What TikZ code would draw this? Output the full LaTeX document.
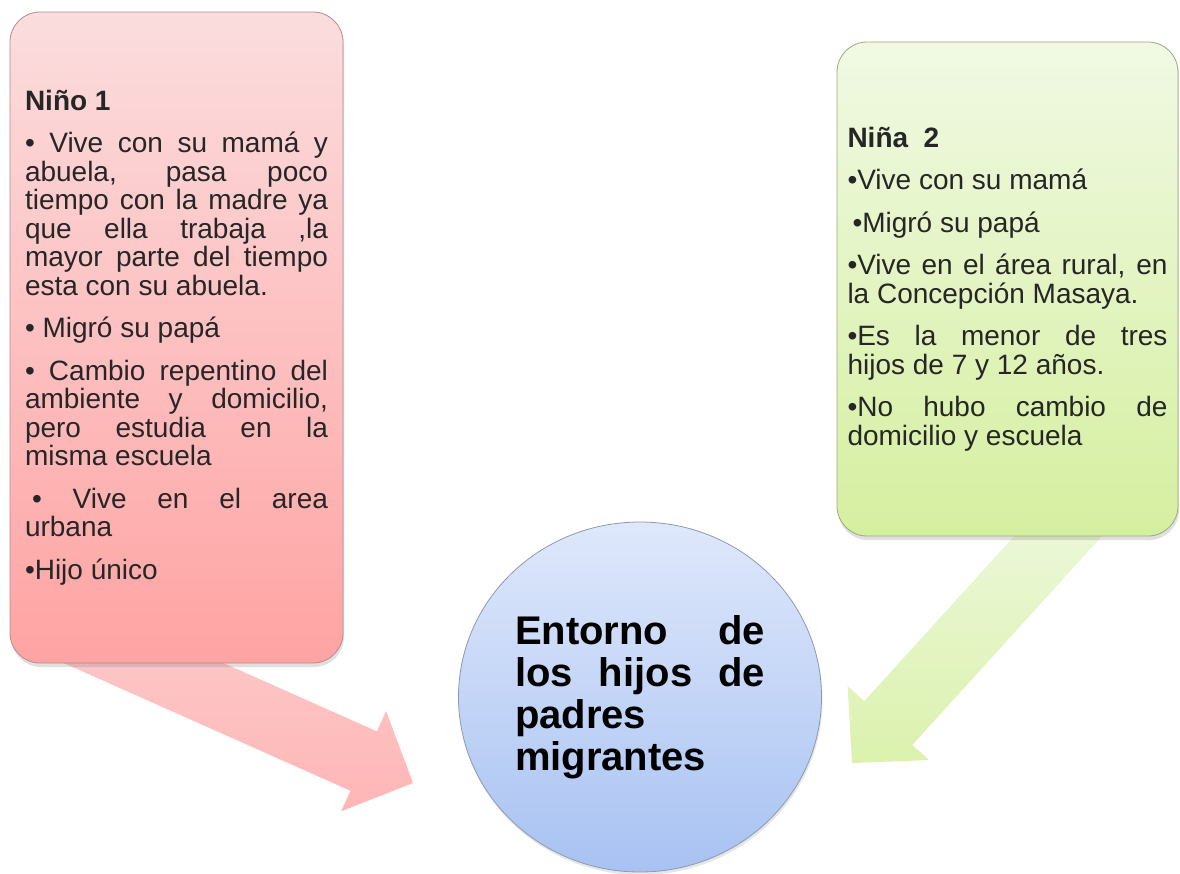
\documentclass[tikz,border=0pt]{standalone}
\usepackage{fontspec}
\setmainfont{Liberation Sans}
\usetikzlibrary{
    calc,
    shapes.geometric,
    shadows
}
\definecolor{pinktop}{HTML}{FBDDDE}
\definecolor{pinkbot}{HTML}{FFA3A3}
\definecolor{pinkline}{HTML}{B88A8A}
\definecolor{greentop}{HTML}{F1F9E4}
\definecolor{greenbot}{HTML}{D5EF9F}
\definecolor{greenline}{HTML}{98AC78}
\definecolor{bluetop}{HTML}{DFE8FB}
\definecolor{bluebot}{HTML}{A8C2F2}
\definecolor{blueline}{HTML}{8C9AB0}
\hbadness=10000
\hyphenpenalty=10000
% block arrow: style, tail, tip
\newcommand{\blockarrow}[3]{%
    \coordinate (#2b) at ($(#3)!54pt!(#2)$);
    \path[#1] ($(#2)!32.5pt!90:(#3)$) -- ($(#2b)!32.5pt!-90:(#2)$)
        -- ($(#2b)!55pt!-90:(#2)$) -- (#3) -- ($(#2b)!55pt!90:(#2)$)
        -- ($(#2b)!32.5pt!90:(#2)$) -- ($(#2)!32.5pt!-90:(#3)$) -- cycle;
}

\begin{document}
\begin{tikzpicture}[x=1pt, y=-1pt,
    card/.style={rectangle, rounded corners=30pt, draw=#1line, line width=0.8pt,
        top color=#1top, bottom color=#1bot, align=justify, text=black!85,
        font=\fontsize{28pt}{28.5pt}\selectfont,
        execute at begin node={\setlength{\parskip}{14pt}\setlength{\parindent}{0pt}},
        drop shadow={opacity=0.25, shadow xshift=1pt, shadow yshift=-4pt}},
    hub/.style={ellipse, draw=blueline, line width=0.8pt, inner sep=0pt,
        top color=bluetop, bottom color=bluebot, align=justify,
        minimum width=363pt, minimum height=350pt, text width=250pt,
        font=\bfseries\fontsize{40pt}{42pt}\selectfont,
        drop shadow={opacity=0.2, shadow xshift=1pt, shadow yshift=-3pt}},
    pinkflow/.style={top color=pinktop!70!pinkbot, bottom color=pinkbot!80!white},
    greenflow/.style={top color=greentop, bottom color=greenbot!85!white}
    ]
    \useasboundingbox (0,0) rectangle (1180,873);

    \coordinate (tail1) at (71.4,630.9);
    \coordinate (tip1) at (413,783);
    \coordinate (tail2) at (1110,479);
    \coordinate (tip2) at (852,763);
    \blockarrow{pinkflow}{tail1}{tip1}
    \blockarrow{greenflow}{tail2}{tip2}

    \node[card=pink, minimum width=333pt, minimum height=651pt, text width=303pt,
        inner xsep=15pt] (nino) at (176.5,337.5) {%
        \textbf{Niño 1}\par
        • Vive con su mamá y\linebreak abuela, pasa poco\linebreak
        tiempo con la madre ya\linebreak que ella trabaja ,la\linebreak
        mayor parte del tiempo\linebreak esta con su abuela.\par
        • Migró su papá\par
        • Cambio repentino del\linebreak ambiente y domicilio,\linebreak
        pero estudia en la\linebreak misma escuela\par
        \hspace*{7pt}• Vive en el area\linebreak urbana\par
        •Hijo único};

    \node[card=green, minimum width=341pt, minimum height=494pt, text width=320pt,
        inner xsep=10.5pt] (nina) at (1007.5,289) {%
        \textbf{Niña\ \ 2}\par
        •Vive con su mamá\par
        \hspace*{5pt}•Migró su papá\par
        •Vive en el área rural, en\linebreak la Concepción Masaya.\par
        •Es la menor de tres\linebreak hijos de 7 y 12 años.\par
        •No hubo cambio de\linebreak domicilio y escuela};

    \node[hub] (hub) at (640,697) {Entorno de\linebreak los hijos de\linebreak
        padres\linebreak migrantes};
\end{tikzpicture}
\end{document}
